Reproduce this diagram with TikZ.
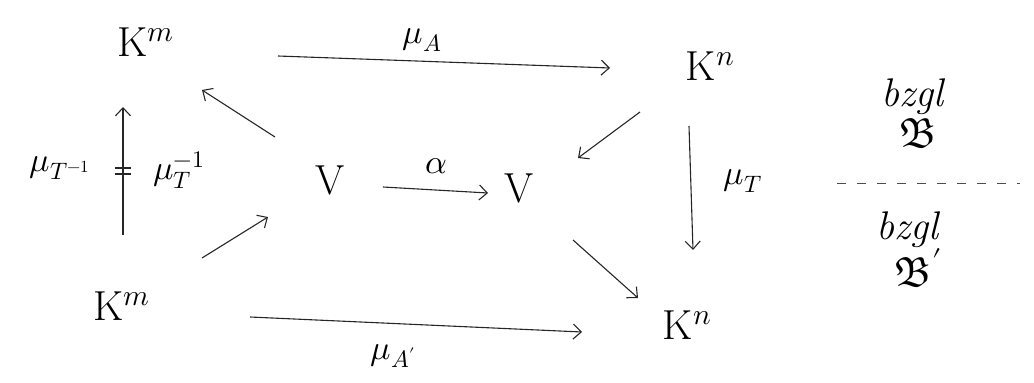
\documentclass[tikz,border=0pt]{standalone}
\usepackage{unicode-math}
\usetikzlibrary{arrows.meta,calc}
\tikzset{
  obj/.style={inner sep=0pt, font=\fontsize{42}{48}\selectfont},
  lab/.style={inner sep=0pt, font=\fontsize{34}{40}\selectfont},
  note/.style={inner sep=0pt, font=\fontsize{40}{46}\selectfont\itshape},
  arr/.style={line width=1.1pt, draw=black!85,
    -{Straight Barb[length=8pt,width=15pt,line width=1.1pt]}},
  eqbar/.style={line width=1.3pt, draw=black!85},
  sep/.style={line width=1pt, draw=black!70, dash pattern=on 9pt off 11pt}
}
\begin{document}
\begin{tikzpicture}[x=1pt,y=-1pt]
  \useasboundingbox (0,0) rectangle (1034,383);

  % spaces
  \node[obj] (Kmt) at (146,42)  {$\mathrm{K}^{m}$};
  \node[obj] (Knt) at (710,66)  {$\mathrm{K}^{n}$};
  \node[obj] (Vl)  at (330,180) {$\mathrm{V}$};
  \node[obj] (Vr)  at (519,188) {$\mathrm{V}$};
  \node[obj] (Kmb) at (122,306) {$\mathrm{K}^{m}$};
  \node[obj] (Knb) at (687,325) {$\mathrm{K}^{n}$};

  % maps
  \draw[arr] ([shift={(132,14)}]Kmt.center) -- ([shift={(-100,2)}]Knt.center);
  \draw[arr] ([shift={(-55,-43)}]Vl.center) -- ([shift={(56,48)}]Kmt.center);
  \draw[arr] ([shift={(1,-71)}]Kmb.center) -- ([shift={(-23,65)}]Kmt.center);
  \draw[arr] ([shift={(80,-48)}]Kmb.center) -- ([shift={(-62,37)}]Vl.center);
  \draw[arr] ([shift={(128,11)}]Kmb.center) -- ([shift={(-105,7)}]Knb.center);
  \draw[arr] ([shift={(53,7)}]Vl.center) -- ([shift={(-31,5)}]Vr.center);
  \draw[arr] ([shift={(-70,46)}]Knt.center) -- ([shift={(59,-30)}]Vr.center);
  \draw[arr] ([shift={(-21,60)}]Knt.center) -- ([shift={(6,-75)}]Knb.center);
  \draw[arr] ([shift={(54,52)}]Vr.center) -- ([shift={(-49,-27)}]Knb.center);

  % equality bars across the vertical map on the left
  \draw[eqbar] ([shift={(-31,126)}]Kmt.center) -- ([shift={(-15,126)}]Kmt.center);
  \draw[eqbar] ([shift={(-31,132)}]Kmt.center) -- ([shift={(-15,132)}]Kmt.center);

  % map labels
  \node[lab] (muA)  at (422,40)  {$\mu_{A}$};
  \node[lab] (muAp) at (393,356) {$\mu_{A'}$};
  \node[lab] (alph) at (436,166) {$\alpha$};
  \node[lab] (muT)  at (743,181) {$\mu_{T}$};
  \node[lab] (muTi) at (60,168)  {$\mu_{T^{-1}}$};
  \node[lab] (muiT) at (179,170) {$\mu_{T}^{-1}$};

  % bases
  \node[note] (bz1) at (912,97)  {bzgl};
  \node[obj]  (B1)  at (918,134) {$\mathfrak{B}$};
  \coordinate (d1) at (837,183);
  \coordinate (d2) at (1020,183);
  \draw[sep] (d1) -- (d2);
  \node[note] (bz2) at (907,230) {bzgl};
  \node[obj]  (B2)  at (918,268) {$\mathfrak{B}'$};
\end{tikzpicture}
\end{document}
